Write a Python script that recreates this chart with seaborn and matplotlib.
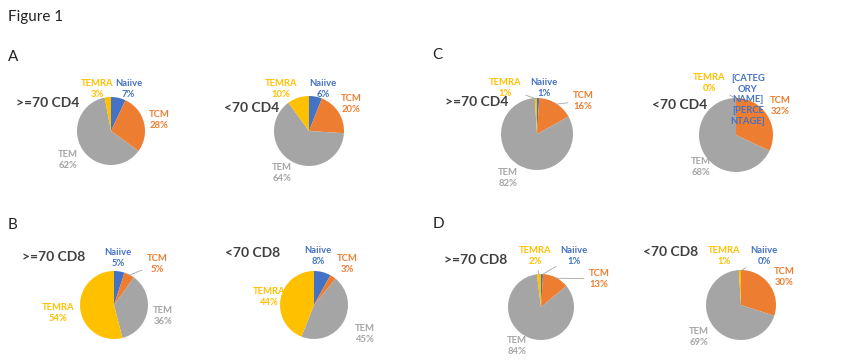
import numpy as np
import matplotlib
matplotlib.use("Agg")
import matplotlib.pyplot as plt
import seaborn as sns

# T cell subsets, clockwise from 12 o'clock
categories = ["Naiive", "TCM", "TEM", "TEMRA"]

# percentages per group
cd4_old_a = [7, 28, 62, 3]
cd4_young_a = [6, 20, 64, 10]
cd4_old_c = [1, 16, 82, 1]
cd4_young_c = [0, 32, 68, 0]
cd8_old_b = [5, 5, 36, 54]
cd8_young_b = [8, 3, 45, 44]
cd8_old_d = [1, 13, 84, 2]
cd8_young_d = [0, 30, 69, 1]

pie_data = [cd4_old_a, cd4_young_a, cd4_old_c, cd4_young_c,
            cd8_old_b, cd8_young_b, cd8_old_d, cd8_young_d]
pie_titles = [">=70 CD4", "<70 CD4", ">=70 CD4", "<70 CD4",
              ">=70 CD8", "<70 CD8", ">=70 CD8", "<70 CD8"]
panel_letters = ["A", "C", "B", "D"]

wedge_colors = ["#4472C4", "#ED7D31", "#A5A5A5", "#FFC000"]
text_colors = ["#4472C4", "#ED7D31", "#A5A5A5", "#FFC000"]

W, H = 850, 360

# layout in pixels: pie centre x, y, radius
pie_boxes = [(111, 131, 34), (309, 131, 35), (537, 134, 36), (736, 135, 37),
             (114, 305, 34), (314, 305, 34), (541, 307, 33), (741, 305, 35)]
# title left x, centre y
title_pos = [(16, 103), (224, 108), (445, 102), (652, 105),
             (22, 257), (225, 253), (444, 260), (643, 252)]
letter_pos = [(8, 57), (432, 55), (8, 225), (433, 224)]
# label offsets in radius units (Naiive, TCM, TEM, TEMRA)
label_xy = [
    [(0.52, 1.24), (1.41, 0.32), (-1.26, -0.85), (-0.40, 1.24)],
    [(0.40, 1.20), (1.20, 0.77), (-0.77, -1.20), (-0.80, 1.20)],
    [(0.19, 1.28), (1.28, 0.92), (-0.80, -1.22), (-0.89, 1.28)],
    [(0.32, 0.95), (1.19, 0.78), (-0.95, -0.86), (-0.73, 1.41)],
    [(0.12, 1.38), (1.26, 1.21), (1.44, -0.32), (-1.65, -0.24)],
    [(0.12, 1.44), (0.97, 1.20), (1.50, -0.85), (-1.32, 0.24)],
    [(1.00, 1.55), (1.76, 0.85), (-0.73, -1.18), (-0.18, 1.55)],
    [(0.66, 1.40), (1.23, 0.80), (-1.20, -0.91), (-0.49, 1.40)],
]
leaders = [
    [], [], ["TEMRA", "TCM"], ["TEMRA"],
    ["TCM"], [], ["Naiive", "TCM", "TEMRA"], ["Naiive", "TEMRA"],
]

sns.set_theme(style="white")
plt.rcParams["font.family"] = ["Lato", "DejaVu Sans"]

fig = plt.figure(figsize=(W / 100, H / 100), dpi=100)
fig.patch.set_facecolor("white")

fig.text(8 / W, 1 - 17 / H, "Figure 1", fontsize=11, color="#222222",
         va="center", ha="left")
for letter, (lx, ly) in zip(panel_letters, letter_pos):
    fig.text(lx / W, 1 - ly / H, letter, fontsize=11, color="#222222",
             va="center", ha="left")

lbl_kw = dict(ha="center", va="center", fontsize=6.8, fontweight="bold",
              linespacing=1.25)

for i, values in enumerate(pie_data):
    cx, cy, r = pie_boxes[i]
    ax = fig.add_axes([(cx - r) / W, 1 - (cy + r) / H, 2 * r / W, 2 * r / H])
    wedges, _ = ax.pie(values, colors=wedge_colors, startangle=90,
                       counterclock=False, radius=1,
                       wedgeprops=dict(linewidth=0))
    ax.set_xlim(-1, 1)
    ax.set_ylim(-1, 1)
    ax.set_aspect("equal")
    ax.axis("off")

    for j, (cat, val) in enumerate(zip(categories, values)):
        if i == 3 and cat == "Naiive":
            txt = "[CATEG\nORY\nNAME]\n[PERCE\nNTAGE]"
        else:
            txt = f"{cat}\n{val}%"
        w = wedges[j]
        mid = np.deg2rad((w.theta1 + w.theta2) / 2)
        tip = (np.cos(mid) * 0.98, np.sin(mid) * 0.98)
        tx, ty = label_xy[i][j]
        if cat in leaders[i]:
            ax.annotate(txt, xy=tip, xytext=(tx, ty), color=text_colors[j],
                        annotation_clip=False,
                        arrowprops=dict(arrowstyle="-", color="#A5A5A5",
                                        lw=0.6, shrinkA=1, shrinkB=0),
                        **lbl_kw)
        else:
            ax.text(tx, ty, txt, color=text_colors[j], clip_on=False,
                    **lbl_kw)

    px, py = title_pos[i]
    fig.text(px / W, 1 - py / H, pie_titles[i], fontsize=10,
             fontweight="bold", color="#404040", ha="left", va="center")

fig.savefig("out.png", dpi=100, facecolor="white")
